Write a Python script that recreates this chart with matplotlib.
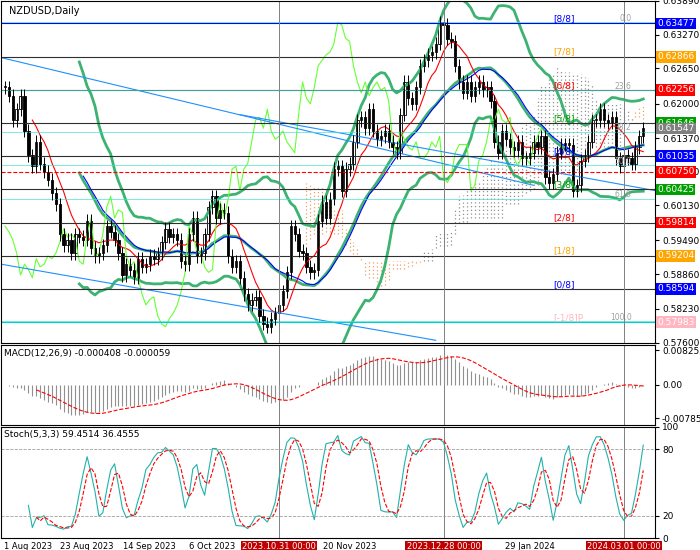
import numpy as np
import pandas as pd
import matplotlib
matplotlib.use("Agg")
import matplotlib.pyplot as plt

closes = [0.6230,0.6215,0.6170,0.6190,0.6215,
0.6150,0.6105,0.6085,0.6130,
0.6090,0.6075,0.6060,0.6035,0.6015,
0.5960,0.5940,0.5950,0.5925,0.5960,
0.5955,0.5950,0.5985,0.5935,0.5920,
0.5925,0.5940,0.5975,0.5965,0.5950,
0.5925,0.5885,0.5905,0.5895,0.5880,
0.5915,0.5900,0.5905,0.5920,0.5915,
0.5925,0.5945,0.5970,0.5955,0.5960,
0.5950,0.5910,0.5905,0.5960,0.5990,
0.5920,0.5925,0.5960,0.6010,0.6030,
0.5990,0.6005,0.6000,0.5920,0.5900,
0.5910,0.5880,0.5850,0.5830,0.5840,
0.5845,0.5810,0.5795,0.5790,0.5805,
0.5815,0.5830,0.5855,0.5890,0.5975,
0.5960,0.5930,0.5925,0.5900,0.5890,
0.5895,0.5985,0.6020,0.5990,0.6025,
0.6080,0.6085,0.6040,0.6080,0.6090,
0.6130,0.6170,0.6175,0.6155,0.6190,
0.6150,0.6135,0.6140,0.6150,0.6130,
0.6120,0.6110,0.6180,0.6240,0.6210,
0.6200,0.6230,0.6270,0.6280,0.6290,
0.6295,0.6310,0.6350,0.6345,0.6320,
0.6315,0.6270,0.6240,0.6220,0.6240,
0.6215,0.6230,0.6240,0.6225,0.6230,
0.6205,0.6130,0.6110,0.6150,0.6135,
0.6120,0.6115,0.6130,0.6100,0.6100,
0.6110,0.6130,0.6120,0.6140,0.6065,
0.6055,0.6070,0.6110,0.6125,0.6125,
0.6125,0.6040,0.6050,0.6095,0.6105,
0.6130,0.6170,0.6170,0.6190,0.6170,
0.6165,0.6175,0.6100,0.6085,0.6105,
0.6100,0.6090,0.6120,0.6140,0.6155]
dates = pd.bdate_range("2023-07-25", periods=len(closes))
murray_vals = [0.64088,0.63477,0.62866,0.62256,0.61646,0.61035,0.60425,0.59814,0.59204,0.58594,0.57983]
murray_names = ["[+1/8]P","[8/8]","[7/8]","[6/8]","[5/8]","[4/8]","[3/8]","[2/8]","[1/8]","[0/8]","[-1/8]P"]
murray_cols = ["#ffb6c1","#0000ff","#ffa500","#ff0000","#00a000","#0000ff","#00a000","#ff0000","#ffa500","#0000ff","#ffb6c1"]
fib_vals = [0.6350,0.6225,0.6148,0.6087,0.6025,0.5800]
fib_names = ["0.0","23.6","38.2","50.0","61.8","100.0"]
price_ticks = [0.63890,0.63270,0.62650,0.62000,0.61370,0.60750,0.60130,0.59490,0.58860,0.58230,0.57600]
xlabels = ["1 Aug 2023","23 Aug 2023","14 Sep 2023","6 Oct 2023","2023.10.31 00:00","20 Nov 2023","2023.12.28 00:00","29 Jan 2024","2024.03.01 00:00"]
xdates = ["2023-08-01","2023-08-23","2023-09-14","2023-10-06","2023-10-31","2023-11-20","2023-12-28","2024-01-29","2024-03-01"]

c = pd.Series(closes)
o = c.shift(1).fillna(c.iloc[0])
h = np.maximum(o, c) + 0.0012
l = np.minimum(o, c) - 0.0012
n = len(c); x = np.arange(n)

W, H = 700, 550
fig = plt.figure(figsize=(7,5.5), dpi=100)
def ax_px(x0,y0,x1,y1):
    return fig.add_axes([x0/W, 1-y1/H, (x1-x0)/W, (y1-y0)/H])
ax = ax_px(1,1,655,343); am = ax_px(1,345,655,425); ast = ax_px(1,427,655,538)
for a in (ax,am,ast):
    a.set_xlim(-1, n+2)
    a.yaxis.tick_right()
    a.tick_params(labelsize=6.5, length=3, pad=2)
    a.set_xticks([])
    for s in a.spines.values(): s.set_color("black"); s.set_linewidth(0.8)

tenkan = (h.rolling(9).max()+l.rolling(9).min())/2
kijun = (h.rolling(26).max()+l.rolling(26).min())/2
spanA = ((tenkan+kijun)/2).shift(26)
spanB = ((h.rolling(52).max()+l.rolling(52).min())/2).shift(26)
for i in range(n):
    if not np.isnan(spanA[i]) and not np.isnan(spanB[i]):
        col = "#909090" if spanA[i] > spanB[i] else "#f0a060"
        ax.vlines(i, min(spanA[i],spanB[i]), max(spanA[i],spanB[i]), colors=col, linestyles=(0,(1,2)), lw=0.9)
ma20 = c.rolling(20).mean(); sd = c.rolling(20).std()
for s in (ma20+2*sd, ma20, ma20-2*sd):
    ax.plot(x, s, color="#3cb371", lw=2)
ax.plot(x, c.rolling(8).mean(), color="red", lw=0.8)
ax.plot(x, c.rolling(21).mean(), color="blue", lw=0.8)
ax.plot(x[:-26], c[26:], color="#66ff33", lw=0.8)
ax.plot([-1, 135], [0.6285, 0.6050], color="#1e90ff", lw=0.8)
ax.plot([-1, 110], [0.5905, 0.5765], color="#1e90ff", lw=0.8)
ax.plot([60, 170], [0.6180, 0.6035], color="#1e90ff", lw=0.8)
for v,nm,cl in zip(murray_vals,murray_names,murray_cols):
    if nm != "[+1/8]P":
        lc = "#0000ff" if nm=="[8/8]" else ("#00ced1" if nm=="[-1/8]P" else "#303030")
        ax.axhline(v, color=lc, lw=0.8)
    ax.text(140, v+0.0004, nm, color=cl, fontsize=6.5, clip_on=True)
ax.axhline(0.6075, color="red", ls="--", lw=0.8)
for v,nm in zip(fib_vals,fib_names):
    ax.axhline(v, color="#40e0d0", lw=0.6, alpha=0.8)
    ax.text(n-4, v+0.0003, nm, color="#a0a0a0", fontsize=5.5, ha="right")
for i in range(n):
    up = c[i] >= o[i]
    ax.vlines(i, l[i], h[i], color="black", lw=0.7)
    ax.bar(i, abs(c[i]-o[i]) or 0.0002, bottom=min(o[i],c[i]), width=0.6,
           color="white" if up else "black", edgecolor="black", lw=0.6)
xt = [dates.get_indexer([pd.Timestamp(d)], method="nearest")[0] for d in xdates]
for k in (4,6,8):
    for a in (ax,am,ast): a.axvline(xt[k], color="#808080", lw=0.7)
ax.set_ylim(0.5760, 0.6389)
ax.set_yticks(price_ticks); ax.set_yticklabels([f"{t:.5f}" for t in price_ticks])
bcols = {0.63477:"#0000ff",0.62866:"#ffa500",0.62256:"#ff0000",0.61646:"#00a000",0.61547:"#808080",
         0.61035:"#0000ff",0.60750:"#ff0000",0.60425:"#00a000",0.59814:"#ff0000",0.59204:"#ffa500",0.58594:"#0000ff",0.57983:"#ffb6c1"}
for v,cl in bcols.items():
    ax.text(1.003, (v-0.5760)/(0.6389-0.5760), f"{v:.5f}", transform=ax.transAxes, fontsize=6.5,
            color="white", va="center", ha="left", bbox=dict(boxstyle="square,pad=0.15", fc=cl, ec="none"))
ax.text(0.012, 0.985, "NZDUSD,Daily", transform=ax.transAxes, fontsize=7, va="top")

ema12 = c.ewm(span=12, adjust=False).mean(); ema26 = c.ewm(span=26, adjust=False).mean()
macd = ema12-ema26; sig = macd.rolling(9).mean()
am.vlines(x, 0, macd, color="#909090", lw=0.8)
am.plot(x, sig, color="red", ls="--", lw=0.8)
am.set_ylim(-0.0095, 0.0095)
am.set_yticks([0.008252, 0.0, -0.007856]); am.set_yticklabels(["0.008252","0.00","-0.007856"])
am.text(0.005, 0.95, "MACD(12,26,9) -0.000408 -0.000059", transform=am.transAxes, fontsize=6.5, va="top")

kraw = 100*(c - l.rolling(5).min())/(h.rolling(5).max()-l.rolling(5).min())
k = kraw.rolling(3).mean(); d = k.rolling(3).mean()
ast.plot(x, k, color="#20b2aa", lw=0.8); ast.plot(x, d, color="red", ls="--", lw=0.8)
for lv in (20,80): ast.axhline(lv, color="#a0a0a0", ls="--", lw=0.6)
ast.set_ylim(0,100); ast.set_yticks([100,80,20,0])
ast.text(0.005, 0.97, "Stoch(5,3,3) 59.4514 36.4555", transform=ast.transAxes, fontsize=6.5, va="top")
for k_,(p,lab) in enumerate(zip(xt,xlabels)):
    pos = p + (4 if k_ == 5 else 0)
    if k_ in (4,6,8):
        ast.text(pos, -0.035, lab, transform=ast.get_xaxis_transform(), fontsize=6, ha="center", va="top",
                 color="white", bbox=dict(boxstyle="square,pad=0.15", fc="#c00000", ec="none"))
    else:
        ast.text(max(pos, 6), -0.035, lab, transform=ast.get_xaxis_transform(), fontsize=6, ha="center", va="top")
fig.savefig("out.png", dpi=100, facecolor="white")
